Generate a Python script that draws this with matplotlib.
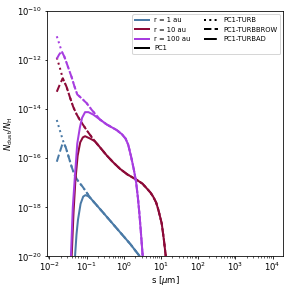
import matplotlib
matplotlib.use('Agg')
import matplotlib.pyplot as plt
from matplotlib.lines import Line2D
import numpy as np

# values, as log10(s [um]) and log10(N_dust/N_H)
radii = ['r = 1 au', 'r = 10 au', 'r = 100 au']
colors = ['#4a7aa6', '#8c0a38', '#a73de0']

# r = 1 au
s_pc1_1 = [-1.31, -1.27, -1.23, -1.16, -1.09, -1.03, -0.96, -0.89, -0.55, -0.10, 0.18, 0.46]
n_pc1_1 = [-20.0, -19.1, -18.5, -17.85, -17.56, -17.5, -17.54, -17.63, -18.22, -19.01, -19.5, -20.05]
s_brow_1 = [-1.80, -1.72, -1.66, -1.61, -1.56, -1.48, -1.40, -1.33, -1.25, -1.10, -0.89]
n_brow_1 = [-16.14, -15.75, -15.47, -15.39, -15.55, -15.95, -16.35, -16.65, -16.88, -17.17, -17.63]
s_turb_1 = [-1.80, -1.70, -1.61]
n_turb_1 = [-14.44, -14.95, -15.39]

# r = 10 au
s_pc1_10 = [-1.40, -1.35, -1.30, -1.24, -1.17, -1.10, -1.04, -0.90, -0.78, -0.64, -0.46, -0.28, -0.10,
            0.10, 0.35, 0.50, 0.615, 0.72, 0.79, 0.87, 0.93, 1.02, 1.08, 1.13]
n_pc1_10 = [-20.0, -18.2, -16.9, -15.9, -15.35, -15.15, -15.1, -15.2, -15.3, -15.55, -15.88, -16.17, -16.43,
            -16.66, -16.88, -17.03, -17.22, -17.4, -17.56, -17.8, -18.1, -18.65, -19.33, -20.0]
s_brow_10 = [-1.80, -1.72, -1.64, -1.54, -1.45, -1.36, -1.27, -1.18, -1.00, -0.88, -0.78]
n_brow_10 = [-13.29, -13.0, -12.74, -13.08, -13.5, -13.9, -14.2, -14.44, -14.85, -15.1, -15.3]
s_turb_10 = [-1.80, -1.72, -1.64]
n_turb_10 = [-11.9, -12.3, -12.74]

# r = 100 au
s_pc1_100 = [-1.42, -1.37, -1.32, -1.25, -1.18, -1.12, -1.04, -0.95, -0.82, -0.64, -0.46, -0.19, -0.05,
             0.05, 0.12, 0.20, 0.27, 0.33, 0.38, 0.42, 0.46, 0.51]
n_pc1_100 = [-20.0, -18.0, -16.88, -15.4, -14.75, -14.35, -14.12, -14.12, -14.22, -14.42, -14.62, -14.85, -15.02,
             -15.2, -15.45, -15.95, -16.45, -16.95, -17.6, -18.25, -19.0, -20.0]
s_brow_100 = [-1.80, -1.74, -1.67, -1.60, -1.54, -1.47, -1.40, -1.33, -1.25, -1.16, -1.00, -0.86, -0.78]
n_brow_100 = [-11.95, -11.78, -11.64, -11.85, -12.1, -12.4, -12.7, -13.05, -13.4, -13.52, -13.75, -14.03, -14.17]
s_turb_100 = [-1.80, -1.73, -1.67]
n_turb_100 = [-11.03, -11.35, -11.64]

series = [
    (s_pc1_1, n_pc1_1, s_brow_1, n_brow_1, s_turb_1, n_turb_1),
    (s_pc1_10, n_pc1_10, s_brow_10, n_brow_10, s_turb_10, n_turb_10),
    (s_pc1_100, n_pc1_100, s_brow_100, n_brow_100, s_turb_100, n_turb_100),
]

plt.rcParams['font.size'] = 8.5

fig = plt.figure(figsize=(291 / 72, 291 / 72), dpi=72)
ax = fig.add_axes([0.16, 0.1186, 0.8137, 0.8436])
lw = 2

for col, (sp, npc, sb, nb, st, nt) in zip(colors, series):
    sp = np.array(sp); npc = np.array(npc)
    sb = np.array(sb); nb = np.array(nb)
    st = np.array(st); nt = np.array(nt)
    # the TURB runs join PC1 once they meet it
    tail = sp > sb[-1]
    sb_full = np.concatenate([sb, sp[tail]])
    nb_full = np.concatenate([nb, npc[tail]])
    st_full = np.concatenate([st, sb_full[sb_full > st[-1]]])
    nt_full = np.concatenate([nt, nb_full[sb_full > st[-1]]])
    ax.plot(10**sp, 10**npc, color=col, lw=lw, ls='-')
    ax.plot(10**st_full, 10**nt_full, color=col, lw=lw, ls=':')
    ax.plot(10**sb_full, 10**nb_full, color=col, lw=lw, ls='--')

ax.set_xscale('log')
ax.set_yscale('log')
ax.set_xlim(10**-2.075, 10**4.29)
ax.set_ylim(1e-20, 1e-10)
ax.set_yticks([10.0**k for k in range(-20, -9, 2)])
ax.yaxis.set_minor_locator(matplotlib.ticker.NullLocator())
ax.tick_params(which='major', length=2.5, pad=2)
ax.tick_params(which='minor', length=1.5)
ax.set_xlabel(r's [$\mu$m]', labelpad=1)
ax.set_ylabel(r'$N_{\rm dust}/N_{\rm H}$', labelpad=2)

handles = [Line2D([], [], color=c, lw=lw) for c in colors]
handles.append(Line2D([], [], color='k', lw=lw))
handles += [Line2D([], [], color='k', lw=lw, ls=s) for s in [':', '--', '-.']]
labels = radii + ['PC1', 'PC1-TURB', 'PC1-TURBBROW', 'PC1-TURBAD']
ax.legend(handles, labels, ncol=2, loc='upper right', fontsize=6.8)

fig.savefig('out.png', dpi=72)
